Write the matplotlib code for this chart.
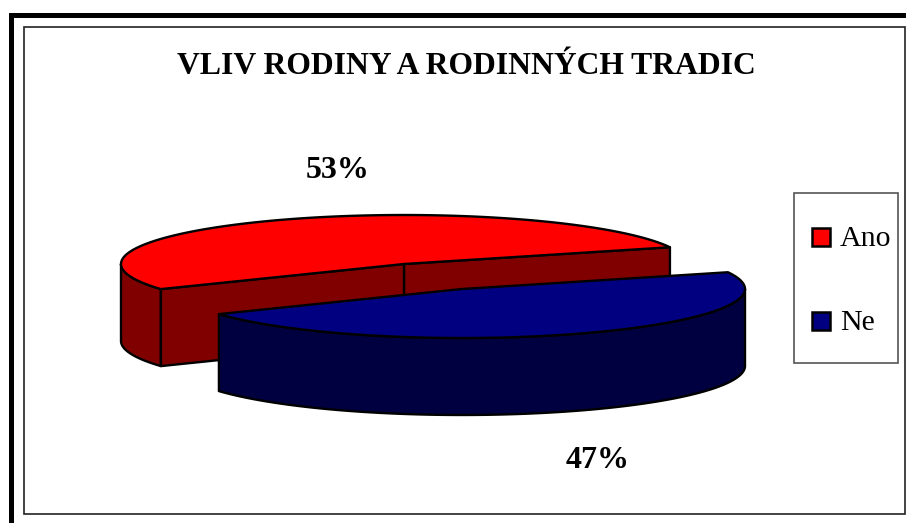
import numpy as np
import matplotlib
matplotlib.use('Agg')
import matplotlib.pyplot as plt
from matplotlib.patches import Polygon, Rectangle

# Data
categories = ['Ano', 'Ne']
values = [53, 47]
title = 'VLIV RODINY A RODINNÝCH TRADIC'

top_colors = ['#ff0000', '#000080']
side_colors = ['#800000', '#000040']

plt.rcParams['font.family'] = ['Liberation Serif', 'DejaVu Serif']

fig = plt.figure(figsize=(9.06, 5.23), dpi=100)
ax = fig.add_axes([0, 0, 1, 1])
ax.set_xlim(0, 906)
ax.set_ylim(523, 0)
ax.axis('off')

# Frame
ax.add_patch(Rectangle((9, 13), 897, 5, fc='black', lw=0))
ax.add_patch(Rectangle((9, 13), 5, 510, fc='black', lw=0))
ax.add_patch(Rectangle((23.5, 26.5), 881.5, 487.5, fill=False, ec='#222222', lw=1.2))

# Pie geometry, in pixels
a, b, depth = 283, 49, 77
start = 20.0
centers = [(404, 264), (462, 289)]
lw = 1.7


def rim(cx, cy, t1, t2, dy=0):
    t = np.radians(np.linspace(t1, t2, 160))
    return np.column_stack([cx + a * np.cos(t), cy - b * np.sin(t) + dy])


def poly(pts, color, z):
    ax.add_patch(Polygon(pts, closed=True, fc=color, ec='black', lw=lw,
                         joinstyle='round', zorder=z))


sweeps = [v / sum(values) * 360 for v in values]

# Red slice: outer wall on the left, both cut faces, then the top
t1, t2 = start, start + sweeps[0]
cx, cy = centers[0]
p1 = np.array([cx + a * np.cos(np.radians(t1)), cy - b * np.sin(np.radians(t1))])
p2 = np.array([cx + a * np.cos(np.radians(t2)), cy - b * np.sin(np.radians(t2))])
c = np.array([cx, cy])
down = np.array([0, depth])
upper = rim(cx, cy, 180, t2)
poly(np.vstack([upper, rim(cx, cy, 180, t2, depth)[::-1]]), side_colors[0], 2)
poly([c, p1, p1 + down, c + down], side_colors[0], 3)
poly([c, p2, p2 + down, c + down], side_colors[0], 3)
poly(np.vstack([[c], rim(cx, cy, t1, t2)]), top_colors[0], 4)

# Blue slice, pulled out of the pie
t3, t4 = t2, t2 + sweeps[1]
cx, cy = centers[1]
upper = rim(cx, cy, t3, 360)
poly(np.vstack([upper, rim(cx, cy, t3, 360, depth)[::-1]]), side_colors[1], 5)
poly(np.vstack([[(cx, cy)], rim(cx, cy, t3, t4)]), top_colors[1], 6)

# Texts
ax.text(466, 67, title, ha='center', va='center', fontsize=22.8, fontweight='bold')
ax.text(337.5, 171, f'{values[0]}%', ha='center', va='center', fontsize=23, fontweight='bold')
ax.text(598, 460, f'{values[1]}%', ha='center', va='center', fontsize=23, fontweight='bold')

# Legend
ax.add_patch(Rectangle((794, 193), 104, 170, fc='white', ec='#555555', lw=1.2))
for name, color, y in zip(categories, top_colors, [236.5, 320.5]):
    ax.add_patch(Rectangle((811.5, y - 9), 18, 18, fc=color, ec='black', lw=1.8))
    ax.text(840, y + 2, name, ha='left', va='center', fontsize=21.5)

fig.savefig('out.png', dpi=100)
